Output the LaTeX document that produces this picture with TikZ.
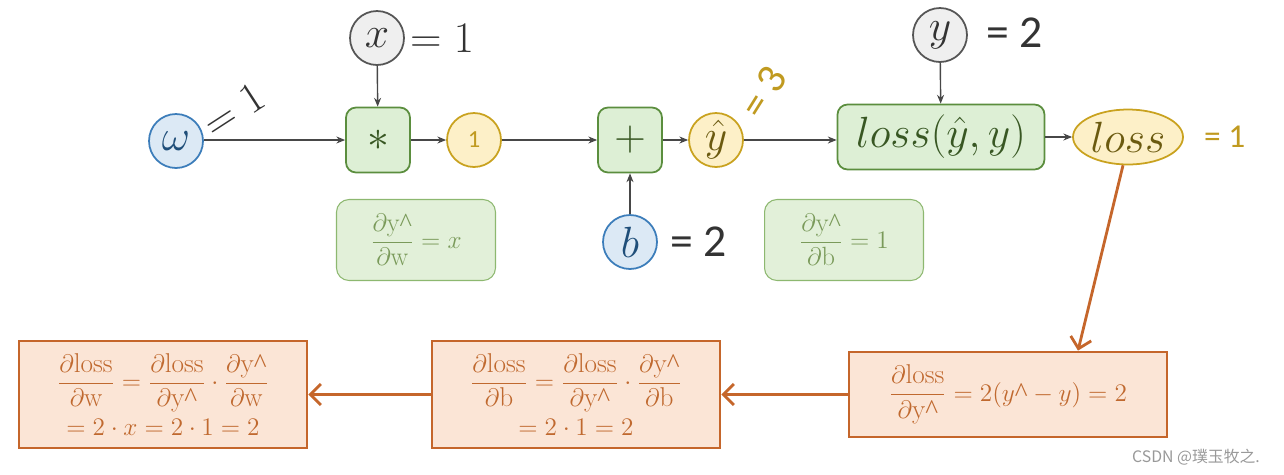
\documentclass[tikz,border=0pt]{standalone}
\usepackage{amsmath}
\usepackage{fontspec}
\newfontfamily\cjk{Noto Sans CJK SC}
\newfontfamily\cali{Carlito}
\newfontfamily\lserif{Liberation Serif}
\usetikzlibrary{arrows.meta,calc,shapes.geometric}

\definecolor{blueFill}{HTML}{DCE9F5}
\definecolor{blueLine}{HTML}{3C7DBA}
\definecolor{blueText}{HTML}{1F4E79}
\definecolor{grayFill}{HTML}{EFEFEF}
\definecolor{grayLine}{HTML}{555555}
\definecolor{greenFill}{HTML}{DDEFD5}
\definecolor{greenLine}{HTML}{5B8E3E}
\definecolor{greenText}{HTML}{385723}
\definecolor{yelFill}{HTML}{FDF0C8}
\definecolor{yelLine}{HTML}{C9A21F}
\definecolor{yelText}{HTML}{C09A20}
\definecolor{oliveText}{HTML}{6B5A10}
\definecolor{noteFill}{HTML}{E2F0D9}
\definecolor{noteLine}{HTML}{8DB870}
\definecolor{noteText}{HTML}{7A9A5A}
\definecolor{orFill}{HTML}{FBE5D6}
\definecolor{orLine}{HTML}{C5662B}
\definecolor{orText}{HTML}{C0692F}
\definecolor{darkText}{HTML}{333333}

\newcommand{\crt}{\text{\lserif\symbol{94}}}
\newcommand{\yc}{\mathrm{y}\crt}

\begin{document}
\begin{tikzpicture}[x=0.02cm,y=-0.02cm,
    big/.style={font=\fontsize{24}{28}\selectfont},
    val/.style={circle,draw,line width=1pt,minimum size=1.08cm,inner sep=0pt,big},
    inp/.style={val,fill=blueFill,draw=blueLine,text=blueText},
    cst/.style={val,fill=grayFill,draw=grayLine,text=darkText},
    mid/.style={val,fill=yelFill,draw=yelLine,text=oliveText},
    op/.style={draw=greenLine,fill=greenFill,line width=1pt,rounded corners=0.2cm,
      minimum width=1.28cm,minimum height=1.3cm,text=greenText,big},
    note/.style={draw=noteLine,fill=noteFill,line width=0.6pt,rounded corners=0.25cm,
      minimum width=3.18cm,minimum height=1.62cm,text=noteText,font=\fontsize{15}{18}\selectfont},
    grad/.style={draw=orLine,fill=orFill,line width=1.6pt,minimum width=5.76cm,
      minimum height=2.14cm,text=orText,align=center,font=\fontsize{15.5}{17}\selectfont},
    fw/.style={-{Stealth[length=5pt,width=4pt]},thick,darkText!90},
    bw/.style={-{Straight Barb[length=6pt,width=12pt]},line width=1.6pt,orLine},
  ]
  \useasboundingbox (0,0) rectangle (1284,474);
  % 入力
  \node[inp] (w) at (176,141) {$\omega$};
  \node[big,text=darkText,rotate=33] (wv) at (234,110) {$=1$};
  \node[cst] (x) at (377,38) {$x$};
  \node[big,text=darkText,anchor=west] (xv) at (404,38) {$= 1$};
  \node[inp] (b) at (630,242) {$b$};
  \node[text=darkText,anchor=west,font=\cali\fontsize{26}{28}\selectfont] (bv) at (664,242) {= 2};
  \node[cst] (y) at (940,35) {$y$};
  \node[text=darkText,anchor=west,font=\cali\fontsize{26}{28}\selectfont] (yv) at (980,33) {= 2};
  % 演算
  \node[op] (mul) at (378,140) {$*$};
  \node[mid,text=yelText,font=\cali\fontsize{14}{16}\selectfont] (one) at (474,140) {1};
  \node[op] (add) at (630,140) {$+$};
  \node[mid] (yhat) at (716,140) {$\hat{y}$};
  \node[text=yelText,rotate=58,font=\cali\fontsize{24}{26}\selectfont] (yv3) at (764,92) {= 3};
  \node[op,minimum width=4.14cm] (lossf) at (941,137) {$loss(\hat{y},y)$};
  \node[mid,ellipse,minimum width=2.2cm,minimum height=1.1cm] (loss) at (1128,137) {$loss$};
  \node[text=yelText,font=\cali\fontsize{19}{22}\selectfont,anchor=west] (lv) at (1198,137) {= 1};
  % 局所勾配
  \node[note] (nw) at (416,240) {$\dfrac{\partial\yc}{\partial\mathrm{w}}=x$};
  \node[note] (nb) at (844,240) {$\dfrac{\partial\yc}{\partial\mathrm{b}}=1$};
  % 前向き
  \draw[fw] (w.east |- mul) -- (mul);
  \draw[fw] (x) -- (mul);
  \draw[fw] (mul) -- (one);
  \draw[fw] (one) -- (add);
  \draw[fw] (b) -- (add);
  \draw[fw] (add) -- (yhat);
  \draw[fw] (yhat.east) -- (lossf.west |- yhat.east);
  \draw[fw] (y) -- (lossf);
  \draw[fw] (lossf) -- (loss);
  % 逆伝播
  \node[grad,minimum width=6.36cm,minimum height=1.7cm] (gy) at (1008,394.5)
    {$\dfrac{\partial\mathrm{loss}}{\partial\yc}=2(y\crt-y)=2$};
  \node[grad] (gb) at (576,394.5)
    {$\dfrac{\partial\mathrm{loss}}{\partial\mathrm{b}}=\dfrac{\partial\mathrm{loss}}{\partial\yc}\cdot\dfrac{\partial\yc}{\partial\mathrm{b}}$\\[3pt] $=2\cdot1=2$};
  \node[grad] (gw) at (163,394.5)
    {$\dfrac{\partial\mathrm{loss}}{\partial\mathrm{w}}=\dfrac{\partial\mathrm{loss}}{\partial\yc}\cdot\dfrac{\partial\yc}{\partial\mathrm{w}}$\\[3pt] $=2\cdot x=2\cdot1=2$};
  \draw[bw] (loss.260) -- ($(gy.north)+(70,0)$);
  \draw[bw] (gy) -- (gb);
  \draw[bw] (gb) -- (gw);
  % 透かし
  \node[text=gray!80,font=\cjk\fontsize{9}{10}\selectfont] (wm) at (1196,457) {CSDN @璞玉牧之.};
\end{tikzpicture}
\end{document}
